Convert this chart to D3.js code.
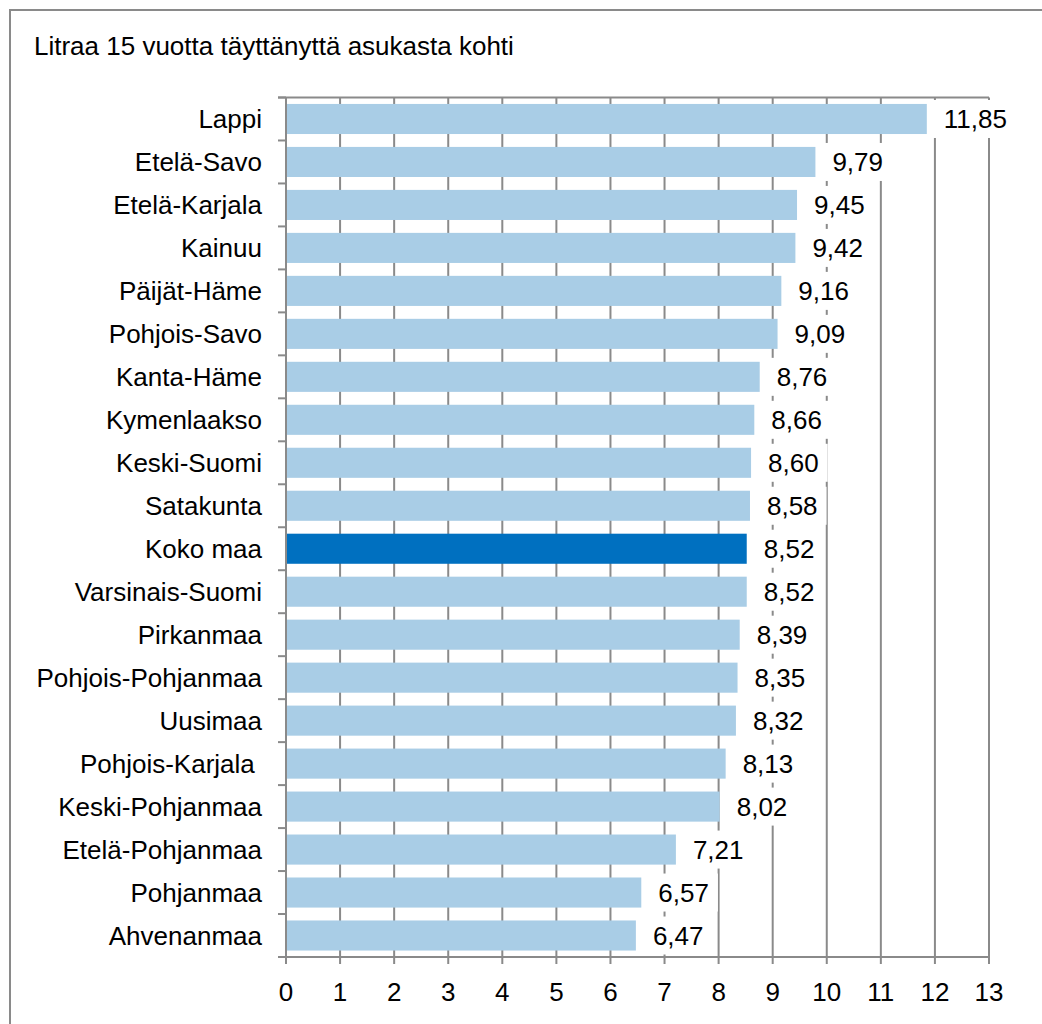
<!DOCTYPE html>
<html>
<head>
<meta charset="utf-8">
<script src="https://cdn.jsdelivr.net/npm/d3@7.9.0/dist/d3.min.js"></script>
<style>
  html, body { margin: 0; padding: 0; background: #fff; }
  svg { display: block; font-family: "Liberation Sans", Arial, sans-serif; }
</style>
</head>
<body>
<svg id="chart" width="1042" height="1024"></svg>
<script>
// data
const title = "Litraa 15 vuotta täyttänyttä asukasta kohti";
const regions = [
  "Lappi", "Etelä-Savo", "Etelä-Karjala", "Kainuu", "Päijät-Häme",
  "Pohjois-Savo", "Kanta-Häme", "Kymenlaakso", "Keski-Suomi", "Satakunta",
  "Koko maa", "Varsinais-Suomi", "Pirkanmaa", "Pohjois-Pohjanmaa", "Uusimaa",
  "Pohjois-Karjala ", "Keski-Pohjanmaa", "Etelä-Pohjanmaa", "Pohjanmaa", "Ahvenanmaa"
];
const litres = [
  11.85, 9.79, 9.45, 9.42, 9.16,
  9.09, 8.76, 8.66, 8.60, 8.58,
  8.52, 8.52, 8.39, 8.35, 8.32,
  8.13, 8.02, 7.21, 6.57, 6.47
];
const xTicks = d3.range(0, 14);
const highlight = "Koko maa";

const data = regions.map((r, i) => ({ region: r, value: litres[i] }));

const svg = d3.select("#chart");
const gridColor = "#8a8a8a";
const fontSize = 26;
const plotLeft = 286, plotRight = 989, plotTop = 97.5, plotBottom = 957;

// outer frame
svg.append("rect")
  .attr("x", 10).attr("y", 10)
  .attr("width", 1100).attr("height", 1100)
  .attr("fill", "none")
  .attr("stroke", gridColor)
  .attr("stroke-width", 2);

svg.append("text")
  .attr("x", 34).attr("y", 55)
  .attr("font-size", fontSize)
  .attr("fill", "#000")
  .text(title);

const x = d3.scaleLinear().domain([0, 13]).range([plotLeft, plotRight]);
const y = d3.scaleBand().domain(regions).range([plotTop, plotBottom])
  .paddingInner(0.3).paddingOuter(0.15);

// vertical gridlines
svg.append("g")
  .selectAll("line")
  .data(xTicks)
  .join("line")
  .attr("x1", d => x(d)).attr("x2", d => x(d))
  .attr("y1", plotTop).attr("y2", plotBottom + 7)
  .attr("stroke", gridColor)
  .attr("stroke-width", 2);

// top line and bottom axis line
[plotTop, plotBottom].forEach(yy => {
  svg.append("line")
    .attr("x1", plotLeft - 8).attr("x2", plotRight)
    .attr("y1", yy).attr("y2", yy)
    .attr("stroke", gridColor)
    .attr("stroke-width", 2);
});

// category ticks on the left at band boundaries
const step = (plotBottom - plotTop) / regions.length;
svg.append("g")
  .selectAll("line")
  .data(d3.range(regions.length + 1))
  .join("line")
  .attr("x1", plotLeft - 8).attr("x2", plotLeft)
  .attr("y1", i => plotTop + i * step).attr("y2", i => plotTop + i * step)
  .attr("stroke", gridColor)
  .attr("stroke-width", 2);

// bars
svg.append("g")
  .selectAll("rect")
  .data(data)
  .join("rect")
  .attr("x", x(0) + 1)
  .attr("y", d => y(d.region))
  .attr("width", d => x(d.value) - x(0) - 1)
  .attr("height", y.bandwidth())
  .attr("fill", d => d.region === highlight ? "#0070c0" : "#a9cde6");

// category labels
svg.append("g")
  .selectAll("text")
  .data(data)
  .join("text")
  .attr("x", 262)
  .attr("y", d => y(d.region) + y.bandwidth() / 2)
  .attr("dy", "0.35em")
  .attr("text-anchor", "end")
  .attr("font-size", fontSize)
  .style("white-space", "pre")
  .text(d => d.region);

// value labels with white boxes
const fmt = v => v.toFixed(2).replace(".", ",");
const labels = svg.append("g")
  .selectAll("g")
  .data(data)
  .join("g")
  .attr("transform", d => `translate(${x(d.value) + 17},${y(d.region) + y.bandwidth() / 2})`);

labels.append("text")
  .attr("dy", "0.35em")
  .attr("font-size", fontSize)
  .text(d => fmt(d.value));

labels.each(function() {
  const g = d3.select(this);
  const w = g.select("text").node().getComputedTextLength();
  g.insert("rect", "text")
    .attr("x", -11).attr("y", -19)
    .attr("width", w + 20).attr("height", 38)
    .attr("fill", "#fff");
});

// x tick labels
svg.append("g")
  .selectAll("text")
  .data(xTicks)
  .join("text")
  .attr("x", d => x(d))
  .attr("y", 1001)
  .attr("text-anchor", "middle")
  .attr("font-size", fontSize)
  .text(d => d);
</script>
</body>
</html>
